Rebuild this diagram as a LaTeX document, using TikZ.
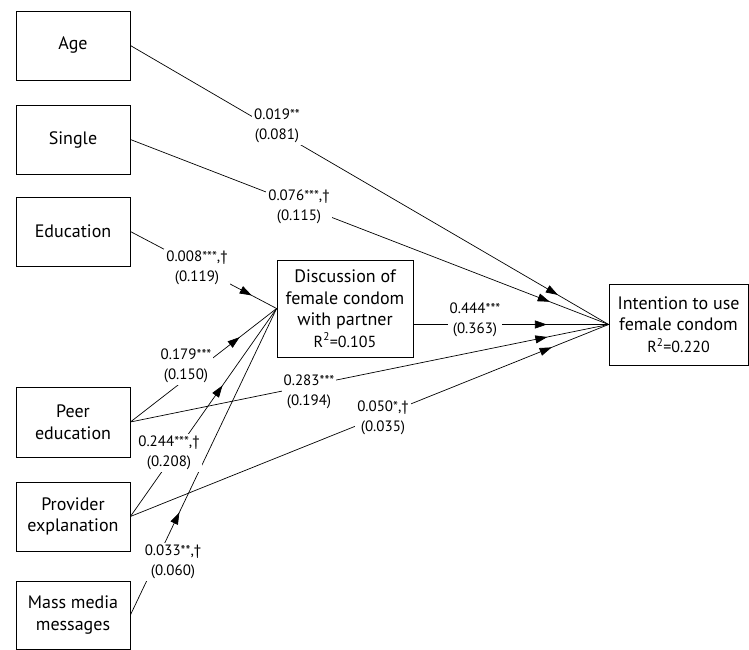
\documentclass[tikz,border=0pt]{standalone}
\usepackage{fontspec}
\setmainfont{PT Sans}
\usetikzlibrary{arrows.meta,decorations.markings}
\tikzset{
  box/.style={draw, line width=0.8pt, align=center, inner sep=0pt,
    font=\fontsize{18}{21.5}\selectfont},
  lab/.style={fill=white, align=center, inner sep=2pt,
    font=\fontsize{15}{20}\selectfont},
  conn/.style={line width=0.7pt, postaction={decorate},
    decoration={markings, mark=at position #1 with {\arrow{Triangle[length=12pt,width=8pt]}}}},
}
\newcommand{\rsq}[1]{\fontsize{16}{20}\selectfont R\textsuperscript{2}=#1}
\newcommand{\st}[1]{{\fontsize{14}{14}\selectfont\raisebox{0.5pt}{#1}}}
\begin{document}
\begin{tikzpicture}[x=1pt,y=-1pt]
\useasboundingbox (0,0) rectangle (749,650);
% boxes
\node[box, minimum width=114, minimum height=69] (age) at (73,45.5) {Age};
\node[box, minimum width=114, minimum height=69] (single) at (73,139.5) {Single};
\node[box, minimum width=114, minimum height=69] (edu) at (73,231.5) {Education};
\node[box, minimum width=114, minimum height=70] (peer) at (73,422) {Peer\\education};
\node[box, minimum width=114, minimum height=69] (prov) at (73,516.5) {Provider\\explanation};
\node[box, minimum width=114, minimum height=68] (mass) at (73,615) {Mass media\\messages};
\node[box, minimum width=136, minimum height=97] (disc) at (345,308.5) {Discussion of\\female condom\\with partner\\\rsq{0.105}};
\node[box, minimum width=139, minimum height=81] (int) at (678.5,324.5) {Intention to use\\female condom\\\rsq{0.220}};
% connectors
\draw[conn=0.894] (age.east) -- (int.west);
\draw[conn=0.877] (single.east) -- (int.west);
\draw[conn=0.684] (disc.east |- int.west) -- (int.west);
\draw[conn=0.872] (peer.east) -- (int.west);
\draw[conn=0.881] (prov.east) -- (int.west);
\draw[conn=0.83] (edu.east) -- (disc.west);
\draw[conn=0.747] (peer.east) -- (disc.west);
\draw[conn=0.63] (prov.east) -- (disc.west);
\draw[conn=0.335] (mass.east) -- (disc.west);
% labels
\node[lab] (lage) at (277,126) {0.019\st{**}\\(0.081)};
\node[lab] (lsingle) at (299,207) {0.076\st{***},†\\(0.115)};
\node[lab] (ledu) at (197,268) {0.008\st{***},†\\(0.119)};
\node[lab] (lpd) at (186,366) {0.179\st{***}\\(0.150)};
\node[lab] (lpi) at (309,392) {0.283\st{***}\\(0.194)};
\node[lab] (lprd) at (169,453) {0.244\st{***},†\\(0.208)};
\node[lab] (lpri) at (383,418) {0.050\st{*},†\\(0.035)};
\node[lab] (lmass) at (173,562) {0.033\st{**},†\\(0.060)};
\node[lab] (ldi) at (475,320) {0.444\st{***}\\(0.363)};
\end{tikzpicture}
\end{document}
